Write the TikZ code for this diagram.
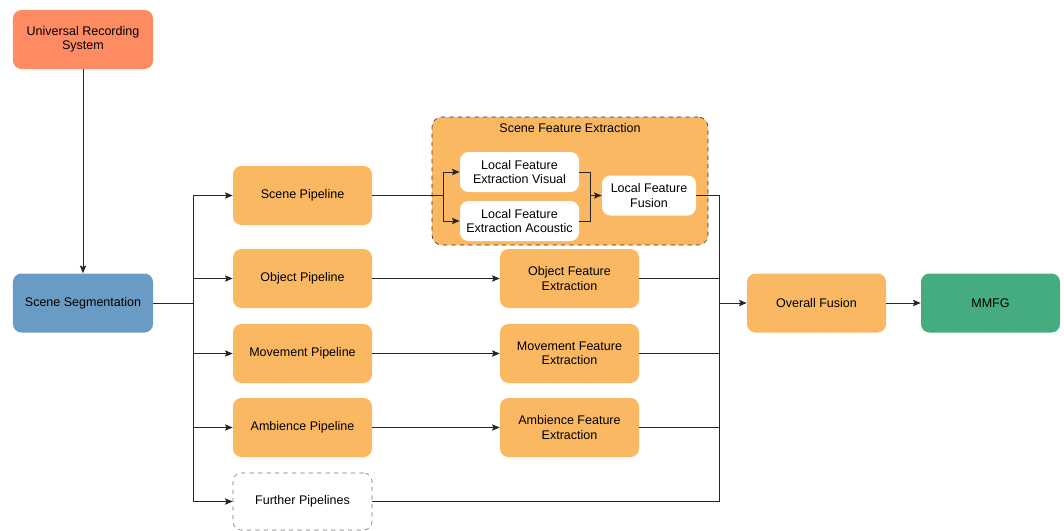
\documentclass[tikz,border=0pt]{standalone}
\usepackage{fontspec}
\setmainfont{Liberation Sans}
\usepackage{tikz}
\usetikzlibrary{arrows.meta, shapes, positioning}

\definecolor{recred}{HTML}{FF8B62}
\definecolor{segblue}{HTML}{6A9BC5}
\definecolor{pipeorange}{HTML}{FBB862}
\definecolor{outgreen}{HTML}{44AC7E}

\begin{document}
\begin{tikzpicture}[
  every node/.style = {font=\fontsize{8.9}{10}\selectfont, text=black},
  recbox/.style  = {rectangle, rounded corners=6pt, fill=recred,
                    minimum width=3.5cm, minimum height=1.475cm,
                    align=center},
  segbox/.style  = {rectangle, rounded corners=6pt, fill=segblue,
                    minimum width=3.5cm, minimum height=1.475cm,
                    align=center},
  pipebox/.style = {rectangle, rounded corners=6pt, fill=pipeorange,
                    minimum width=3.475cm, minimum height=1.475cm,
                    align=center},
  furbox/.style  = {rectangle, rounded corners=6pt, fill=white,
                    draw=gray!90!black, dashed,
                    minimum width=3.475cm, minimum height=1.425cm,
                    align=center},
  localbox/.style = {rectangle, rounded corners=6pt, fill=white,
                     minimum width=2.975cm, minimum height=1.0cm,
                     align=center},
  groupbox/.style = {rectangle, rounded corners=7pt, fill=pipeorange,
                     draw=black!80, dashed,
                     minimum width=6.9cm, minimum height=3.2cm},
  outbox/.style  = {rectangle, rounded corners=6pt, fill=outgreen,
                    minimum width=3.475cm, minimum height=1.475cm,
                    align=center},
  arr/.style  = {-{Stealth[length=5.5pt, width=4.5pt, inset=1pt]},
                 line width=0.7pt, black!85},
  line/.style = {line width=0.7pt, black!85},
]
\useasboundingbox (0,0) rectangle (26.6,-13.275);

%% ── Input and segmentation ───────────────────────────────────────────────
\node[recbox] at (2.075, -0.9875) (urs) {Universal Recording\\System};
\node[segbox] at (2.075, -7.575)  (seg) {Scene Segmentation};

%% ── Pipelines ────────────────────────────────────────────────────────────
\node[pipebox] at (7.5625, -4.8875)  (scenep) {Scene Pipeline};
\node[pipebox] at (7.5625, -6.9625)  (objp)   {Object Pipeline};
\node[pipebox] at (7.5625, -8.8375)  (movp)   {Movement Pipeline};
\node[pipebox] at (7.5625, -10.6875) (ambp)   {Ambience Pipeline};
\node[furbox]  at (7.5625, -12.5375) (furp)   {Further Pipelines};

%% ── Scene feature extraction group ───────────────────────────────────────
\node[groupbox] at (14.25, -4.525) (sfe) {};
\node at (14.25, -3.2) (sfetitle) {Scene Feature Extraction};
\node[localbox] at (12.9875, -4.3)   (vis) {Local Feature\\Extraction Visual};
\node[localbox] at (12.9875, -5.525) (aco) {Local Feature\\Extraction Acoustic};
\node[localbox, minimum width=2.35cm] at (16.225, -4.8875) (lff)
  {Local Feature\\Fusion};

%% ── Other feature extraction ─────────────────────────────────────────────
\node[pipebox] at (14.2375, -6.9625)  (objf) {Object Feature\\Extraction};
\node[pipebox] at (14.2375, -8.8375)  (movf) {Movement Feature\\Extraction};
\node[pipebox] at (14.2375, -10.6875) (ambf) {Ambience Feature\\Extraction};

%% ── Fusion and output ────────────────────────────────────────────────────
\node[pipebox] at (20.4125, -7.575) (ovf)  {Overall Fusion};
\node[outbox]  at (24.7625, -7.575) (mmfg) {MMFG};

%% ── Junction points ──────────────────────────────────────────────────────
\coordinate (bus)   at (4.825, -7.575);
\coordinate (split) at (11.075, -4.8875);
\coordinate (merge) at (14.75, -4.8875);
\coordinate (coll)  at (17.975, -7.575);

%% ── Connectors ───────────────────────────────────────────────────────────
\draw[arr] (urs) -- (seg);
\foreach \p in {scenep, objp, movp, ambp, furp}
  \draw[arr] (seg.east) -- (bus) |- (\p);

\draw[line] (scenep) -- (split);
\draw[arr] (split) |- (vis);
\draw[arr] (split) |- (aco);
\draw[line] (vis) -| (merge);
\draw[line] (aco) -| (merge);
\draw[arr] (merge) -- (lff);

\draw[arr] (objp) -- (objf);
\draw[arr] (movp) -- (movf);
\draw[arr] (ambp) -- (ambf);

\foreach \f in {lff, objf, movf, ambf, furp}
  \draw[line] (\f) -| (coll);
\draw[arr] (coll) -- (ovf);
\draw[arr] (ovf) -- (mmfg);

\end{tikzpicture}
\end{document}
